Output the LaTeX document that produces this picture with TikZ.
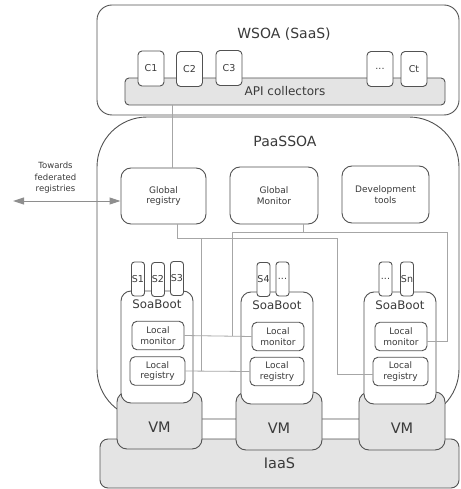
\documentclass[tikz,border=0pt]{standalone}
\usepackage{fontspec}
\setmainfont{DejaVu Sans}
\usetikzlibrary{arrows.meta}
\definecolor{boxline}{HTML}{525252}
\definecolor{linkgray}{HTML}{A6A6A6}
\definecolor{arrowgray}{HTML}{8E8E8E}
\definecolor{boxfill}{HTML}{E4E4E4}
\definecolor{txt}{HTML}{3A3A3A}

\begin{document}
\begin{tikzpicture}[x=1pt, y=-1pt,
    box/.style={draw=boxline, line width=0.9pt, fill=white, rounded corners=10pt, align=center, inner sep=0pt, text=txt, font=\fontsize{9}{10.5}\selectfont},
    graybox/.style={box, fill=boxfill},
    tab/.style={box, rounded corners=4pt, minimum width=26pt, minimum height=35pt, font=\fontsize{9.5}{11}\selectfont},
    svc/.style={box, rounded corners=3pt, minimum width=13pt, minimum height=34pt, font=\fontsize{9.5}{11}\selectfont},
    local/.style={box, rounded corners=5pt, minimum height=28.5pt},
    vmbox/.style={graybox, minimum width=86pt, minimum height=58pt, text height=24pt, text depth=0pt, font=\fontsize{14.5}{16}\selectfont},
    soaboot/.style={box, minimum width=72pt, minimum height=112pt},
    big/.style={text=txt, font=\fontsize{14}{16}\selectfont},
    link/.style={draw=linkgray, line width=0.8pt}]
\useasboundingbox (0,0) rectangle (460,489);

% WSOA layer
\node[box, rounded corners=15pt, minimum width=362pt, minimum height=110pt] (wsoa) at (278,60) {};
\node[big] (wsoatitle) at (284,34) {WSOA (SaaS)};
\node[graybox, rounded corners=4pt, minimum width=320pt, minimum height=27pt, font=\fontsize{12}{14}\selectfont] (api) at (285,91.5) {API collectors};
\node[tab] (c1) at (151,68.5) {C1};
\node[tab] (c2) at (189.5,69) {C2};
\node[tab] (c3) at (229,68) {C3};
\node[tab] (cdots) at (380,69) {...};
\node[tab] (ct) at (414,69) {Ct};

% PaaSSOA layer
\node[box, rounded corners=50pt, minimum width=362pt, minimum height=302pt] (paas) at (278,268) {};
\node[big] (paastitle) at (285,141) {PaaSSOA};
\node[box, minimum width=85pt, minimum height=56pt] (gr) at (163.5,196) {Global\\registry};
\node[box, minimum width=88pt, minimum height=57pt] (gm) at (274,195.5) {Global\\Monitor};
\node[box, minimum width=87pt, minimum height=57pt] (dev) at (385.5,194.5) {Development\\tools};

% Towards federated registries
\coordinate (fed) at (13,201);
\node[text=txt, align=center, font=\fontsize{8.5}{11.5}\selectfont] (fedlabel) at (55.5,178) {Towards\\federated\\registries};
\draw[<->, draw=arrowgray, line width=1pt, >={Triangle[length=11pt,width=7pt]}] (fed) -- (gr.west |- fed);

% IaaS layer
\node[graybox, rounded corners=8pt, minimum width=359pt, minimum height=49pt, font=\fontsize{14.5}{16}\selectfont] (iaas) at (279.5,463.5) {IaaS};

% VMs
\node[vmbox, minimum width=85pt, minimum height=57pt] (vm1) at (159.5,420.5) {VM};
\node[vmbox] (vm2) at (279,421) {VM};
\node[vmbox] (vm3) at (402,421) {VM};

% SoaBoot containers
\node[soaboot] (sb1) at (157,347) {};
\node[soaboot] (sb2) at (277,348) {};
\node[soaboot] (sb3) at (400,348) {};
\node[text=txt, font=\fontsize{11.8}{14}\selectfont] (sbt1) at (157,304) {SoaBoot};
\node[text=txt, font=\fontsize{11.8}{14}\selectfont] (sbt2) at (277,305) {SoaBoot};
\node[text=txt, font=\fontsize{11.8}{14}\selectfont] (sbt3) at (400,305) {SoaBoot};

% Local monitors and registries
\node[local, minimum width=52pt] (lm1) at (158,335.5) {Local\\monitor};
\node[local, minimum width=55pt] (lr1) at (157.5,371) {Local\\registry};
\node[local, minimum width=52pt] (lm2) at (278,336.5) {Local\\monitor};
\node[local, minimum width=54pt] (lr2) at (277,371.5) {Local\\registry};
\node[local, minimum width=52pt] (lm3) at (401,336.5) {Local\\monitor};
\node[local, minimum width=55pt] (lr3) at (400.5,371.5) {Local\\registry};

% Services
\node[svc] (s1) at (138,279) {S1};
\node[svc] (s2) at (158,279.5) {S2};
\node[svc] (s3) at (177,278.5) {S3};
\node[svc] (s4) at (263.5,279.5) {S4};
\node[svc] (sdots2) at (282.5,279) {...};
\node[svc] (sdots3) at (385.5,279) {...};
\node[svc] (sn) at (407,279) {Sn};

% Registry links
\coordinate (rbus) at (337,238);
\coordinate (rdrop) at (201,238);
\draw[link] ([xshift=8.5pt]gr.north) -- ([xshift=8.5pt]gr.north |- api.south);
\draw[link] ([xshift=13.5pt]gr.south) |- (rbus) |- ([yshift=-2.5pt]lr3.west);
\draw[link] (rdrop) -- (rdrop |- lr1.east);
\draw[link] (lr1.east) -- (lr2.west);

% Monitor links
\coordinate (mbusl) at (232,232);
\coordinate (mbusr) at (447,232);
\draw[link] ([xshift=29pt]gm.south) -- ([xshift=29pt]gm.south |- mbusl);
\draw[link] (lm1.east -| mbusl) |- (mbusr) |- ([yshift=-4.5pt]lm3.east);
\draw[link] (lm1.east) -- (lm2.west);
\end{tikzpicture}
\end{document}
